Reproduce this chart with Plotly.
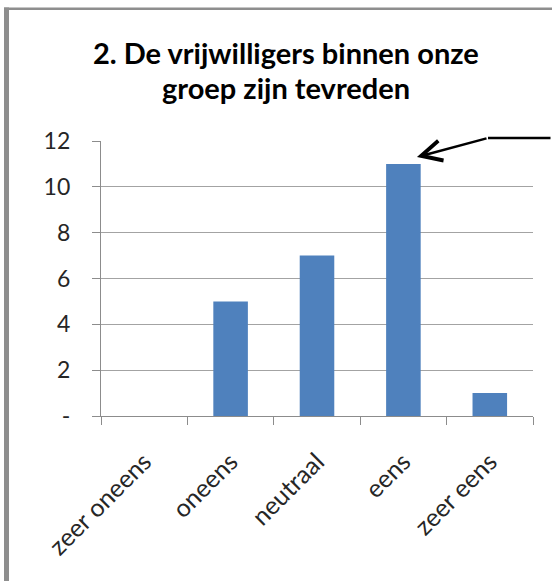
import plotly.graph_objects as go

# --- data ---
categories = ['zeer oneens', 'oneens', 'neutraal', 'eens', 'zeer eens']
counts = [0, 5, 7, 11, 1]
ytick_vals = [0, 2, 4, 6, 8, 10, 12]
ytick_text = ['-', '2', '4', '6', '8', '10', '12']
title_lines = ['2. De vrijwilligers binnen onze', 'groep zijn tevreden']

# --- page geometry (pixels) ---
W, H = 552, 581
L, R, T, B = 101, 19, 141, 165
plot_w, plot_h = W - L - R, H - T - B


def px_x(px):
    return (px - L) / plot_w


def px_y(py):
    return (H - B - py) / plot_h


bar_color = '#4F81BD'
grid_color = '#A3A3A3'
axis_color = '#8C8C8C'
frame_color = '#8E8E8E'
font = 'Lato, Carlito, Calibri, sans-serif'

fig = go.Figure()
fig.add_bar(x=categories, y=counts, marker=dict(color=bar_color, line_width=0))

fig.update_layout(
    width=W, height=H,
    margin=dict(l=L, r=R, t=T, b=B),
    paper_bgcolor='white', plot_bgcolor='white',
    bargap=0.6, showlegend=False,
    font=dict(family=font, size=23, color='#262626'),
)

fig.update_xaxes(
    type='category', range=[-0.5, 4.5], tickangle=-45, tickson='boundaries',
    ticks='outside', ticklen=8, tickcolor=axis_color, tickwidth=1.3,
    showline=True, linecolor=axis_color, linewidth=1.3,
    showgrid=False, ticklabelstandoff=20, tickfont=dict(size=25),
)
fig.update_yaxes(
    range=[0, 12], tickvals=ytick_vals, ticktext=ytick_text,
    ticks='outside', ticklen=8, tickcolor=axis_color, tickwidth=1.3,
    showline=True, linecolor=axis_color, linewidth=1.3,
    showgrid=True, gridcolor=grid_color, gridwidth=1.3,
    zeroline=False, ticklabelstandoff=17,
)

# --- two-line title ---
for line, py in zip(title_lines, [53, 87]):
    fig.add_annotation(text=line, xref='paper', yref='paper',
                       x=px_x(286), y=px_y(py), xanchor='center', yanchor='middle',
                       showarrow=False,
                       font=dict(family=font, size=29, color='black', weight='bold'))

# --- hand-drawn arrow pointing at "eens" ---
tip_x, tip_y = 3.157, 11.30
tail_px, tail_py = 488, 138
fig.add_annotation(x=tip_x, y=tip_y, axref='x', ayref='y',
                   ax=(tail_px - L) / plot_w * 5 - 0.5, ay=(H - B - tail_py) / plot_h * 12,
                   text='', showarrow=True, arrowhead=5, arrowsize=1.6,
                   arrowwidth=2.5, arrowcolor='black')
fig.add_annotation(xref='paper', yref='paper', x=px_x(tail_px), y=px_y(tail_py),
                   ax=90, ay=0, text='', showarrow=True,
                   arrowhead=0, arrowwidth=2.5, arrowcolor='black')

# --- grey frame (top line + left bar) ---
fig.add_shape(type='rect', xref='paper', yref='paper',
              x0=px_x(4), x1=px_x(W + 5), y0=px_y(10), y1=px_y(7.5),
              fillcolor=frame_color, line_width=0)
fig.add_shape(type='rect', xref='paper', yref='paper',
              x0=px_x(4), x1=px_x(9), y0=px_y(H + 5), y1=px_y(7.5),
              fillcolor=frame_color, line_width=0)

# drop the default 8px page margin so the figure sits at the window corner
fig.write_html('out.html', config={'displayModeBar': False},
               post_script="document.body.style.margin='0';")
